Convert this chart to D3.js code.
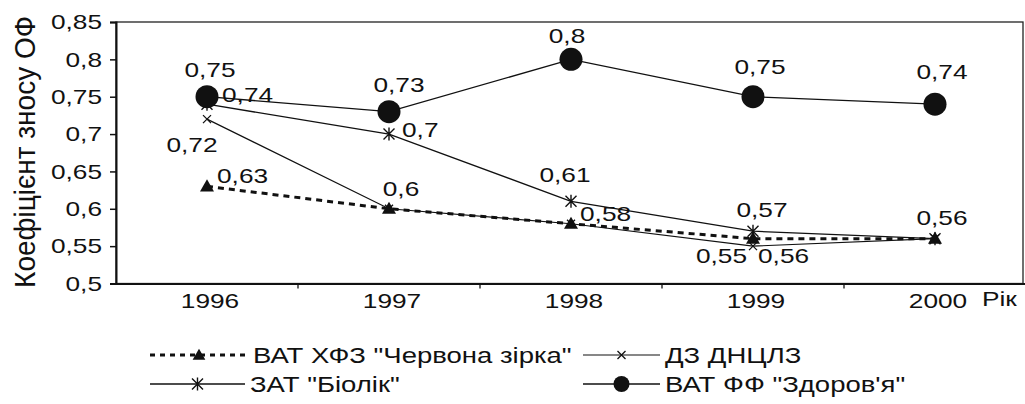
<!DOCTYPE html>
<html>
<head>
<meta charset="utf-8">
<script src="https://cdn.jsdelivr.net/npm/d3@7"></script>
<style>
    body { margin: 0; background: #fff; }
    svg text { font-family: "Liberation Sans", Arial, sans-serif; fill: #111; }
</style>
</head>
<body>
<svg id="chart" width="1025" height="404"></svg>
<script>
// Wear coefficient of fixed assets, 1996-2000

const years = ['1996', '1997', '1998', '1999', '2000'];
const chervonaZirka = [0.63, 0.6, 0.58, 0.56, 0.56];
const dnclz = [0.72, 0.6, 0.58, 0.55, 0.56];
const biolik = [0.74, 0.7, 0.61, 0.57, 0.56];
const zdorovya = [0.75, 0.73, 0.8, 0.75, 0.74];
const yTicks = [0.5, 0.55, 0.6, 0.65, 0.7, 0.75, 0.8, 0.85];
const yTitle = 'Коефіцієнт зносу ОФ';
const xTitle = 'Рік';

// Layout
const plot = { left: 116, right: 1023, top: 22, bottom: 283.5 };
const stretch = 1.25;  // picture text is a bit wider than the font

const svg = d3.select('#chart');
const locale = d3.formatLocale({ decimal: ',', thousands: ' ', grouping: [3], currency: ['', ''] });
const fmt = locale.format('.2~f');

const x = d3.scaleBand().domain(years).range([plot.left, plot.left + 910]);
const y = d3.scaleLinear().domain([0.5, 0.85]).range([plot.bottom, plot.top]);
const cx = d => x(d) + x.bandwidth() / 2;

// Marker drawing
function drawMarker(g, kind, px, py, big) {
    if (kind === 'triangle') {
        g.append('path')
            .attr('d', d3.symbol(d3.symbolTriangle, big ? 85 : 70)())
            .attr('transform', `translate(${px},${py + 1})`)
            .attr('fill', '#111');
    } else if (kind === 'circle') {
        g.append('circle').attr('cx', px).attr('cy', py).attr('r', big ? 11.5 : 8).attr('fill', '#111');
    } else if (kind === 'cross') {
        const s = 4;
        g.append('path')
            .attr('d', `M${px - s},${py - s}L${px + s},${py + s}M${px - s},${py + s}L${px + s},${py - s}`)
            .attr('stroke', '#111').attr('stroke-width', 1.3);
    } else if (kind === 'star') {
        const s = 5.5;
        g.append('path')
            .attr('d', `M${px - s},${py - s}L${px + s},${py + s}M${px - s},${py + s}L${px + s},${py - s}M${px},${py - s - 1}L${px},${py + s + 1}`)
            .attr('stroke', '#111').attr('stroke-width', 1.4);
    }
}

function stretchedText(g, str, px, py, anchor, size) {
    return g.append('text')
        .attr('transform', `translate(${px},${py}) scale(${stretch},1)`)
        .attr('text-anchor', anchor)
        .attr('font-size', size)
        .text(str);
}

// Series with label placement: [dx, dy, anchor] per point, null = hidden
const series = [
    { name: 'ВАТ ХФЗ "Червона зірка"', values: chervonaZirka, marker: 'triangle', width: 3, dash: '6,5',
      labels: [[10, -3, 'start'], [12, -13, 'middle'], [9, -3, 'start'], [5, 24, 'start'], null] },
    { name: 'ДЗ ДНЦЛЗ', values: dnclz, marker: 'cross', width: 1.2, dash: null,
      labels: [[-15, 33, 'middle'], null, null, [-6, 17, 'end'], null] },
    { name: 'ЗАТ "Біолік"', values: biolik, marker: 'star', width: 1.3, dash: null,
      labels: [[15, -2, 'start'], [13, 3, 'start'], [-6, -19, 'middle'], [9, -14, 'middle'], [7, -14, 'middle']] },
    { name: 'ВАТ ФФ "Здоров\'я"', values: zdorovya, marker: 'circle', width: 1.3, dash: null,
      labels: [[3, -20, 'middle'], [10, -20, 'middle'], [-4, -16, 'middle'], [7, -23, 'middle'], [7, -25, 'middle']] }
];

// Plot frame (top and right edges)
svg.append('rect')
    .attr('x', plot.left).attr('y', plot.top)
    .attr('width', plot.right - plot.left).attr('height', plot.bottom - plot.top)
    .attr('fill', 'none').attr('stroke', '#222').attr('stroke-width', 1.3);

// Y axis
const yAxis = svg.append('g')
    .attr('transform', `translate(${plot.left},0)`)
    .call(d3.axisLeft(y).tickValues(yTicks).tickSize(6).tickPadding(5.2).tickFormat(fmt));
yAxis.select('.domain').attr('stroke', '#111').attr('stroke-width', 2);
yAxis.selectAll('.tick line').attr('stroke', '#111').attr('stroke-width', 1.5);
yAxis.selectAll('.tick text')
    .attr('font-size', 21).attr('font-family', null).attr('fill', '#111')
    .attr('transform', `scale(${stretch},1)`);

// X axis
const xAxis = svg.append('g')
    .attr('transform', `translate(0,${plot.bottom})`)
    .call(d3.axisBottom(x).tickSize(0).tickPadding(9.5));
xAxis.select('.domain').attr('stroke', '#111').attr('stroke-width', 2);
xAxis.selectAll('.tick text')
    .attr('font-size', 21).attr('font-family', null).attr('fill', '#111')
    .attr('transform', `translate(3,0) scale(${stretch},1)`);

// Category boundary ticks
svg.append('g').selectAll('line')
    .data(years.slice(1))
    .enter()
    .append('line')
    .attr('x1', d => x(d)).attr('x2', d => x(d))
    .attr('y1', plot.bottom).attr('y2', plot.bottom + 5)
    .attr('stroke', '#111').attr('stroke-width', 1.3);

stretchedText(svg, xTitle, 982, 306, 'start', 21);

// Y title
svg.append('text')
    .attr('transform', `translate(35,152) scale(1.05,1) rotate(-90)`)
    .attr('text-anchor', 'middle')
    .attr('font-size', 28)
    .text(yTitle);

// Lines, markers, labels
const line = d3.line().x((d, i) => cx(years[i])).y(d => y(d));
const marks = svg.append('g');

series.forEach(s => {
    marks.append('path')
        .attr('d', line(s.values))
        .attr('fill', 'none')
        .attr('stroke', '#111')
        .attr('stroke-width', s.width)
        .attr('stroke-dasharray', s.dash);
});

series.forEach(s => {
    s.values.forEach((v, i) => drawMarker(marks, s.marker, cx(years[i]), y(v), true));
});

series.forEach(s => {
    s.values.forEach((v, i) => {
        const lab = s.labels[i];
        if (!lab) return;
        stretchedText(marks, fmt(v), cx(years[i]) + lab[0], y(v) + lab[1], lab[2], 21);
    });
});

// Legend
const legendItems = [
    { s: series[0], x0: 150, x1: 248, y: 355, text: 253 },
    { s: series[1], x0: 583, x1: 660, y: 355, text: 665 },
    { s: series[2], x0: 150, x1: 245, y: 384, text: 250 },
    { s: series[3], x0: 583, x1: 660, y: 384, text: 665 }
];
const legend = svg.append('g');
legendItems.forEach(item => {
    legend.append('line')
        .attr('x1', item.x0).attr('x2', item.x1)
        .attr('y1', item.y).attr('y2', item.y)
        .attr('stroke', '#111')
        .attr('stroke-width', item.s.width)
        .attr('stroke-dasharray', item.s.dash ? '5,5' : null);
    drawMarker(legend, item.s.marker, (item.x0 + item.x1) / 2, item.y, false);
    stretchedText(legend, item.s.name, item.text, item.y + 8, 'start', 22);
});
</script>
</body>
</html>
